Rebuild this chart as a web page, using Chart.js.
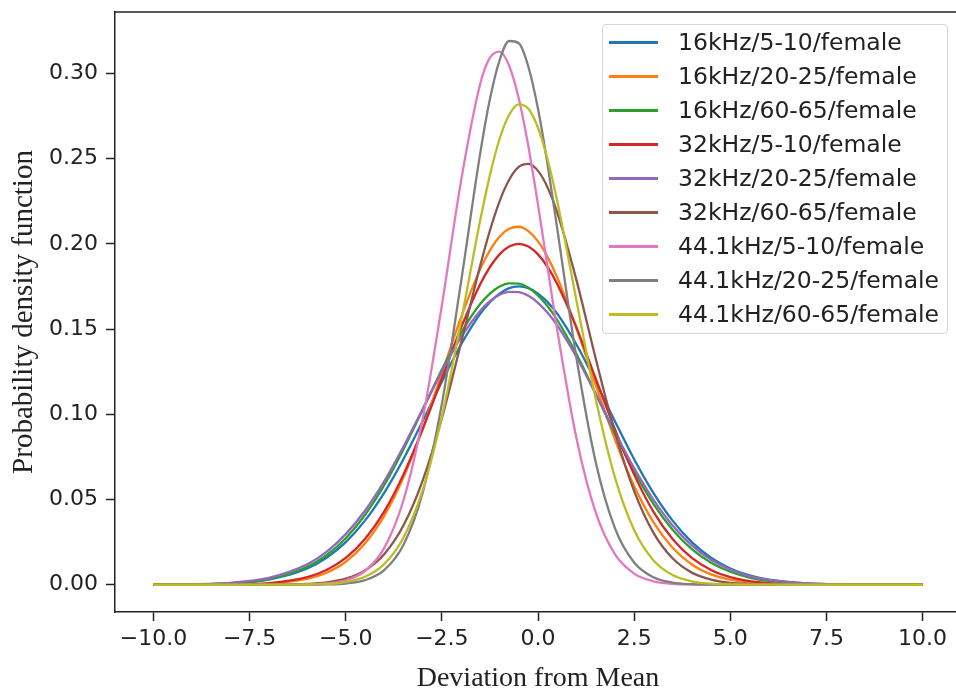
<!DOCTYPE html>
<html>
<head>
<meta charset="utf-8">
<title>Probability density function</title>
<script src="https://cdn.jsdelivr.net/npm/chart.js@4.4.1/dist/chart.umd.min.js"></script>
<style>
    html, body { margin: 0; padding: 0; background: #fff; overflow: hidden; }
    #wrap { position: relative; width: 956px; height: 693px; overflow: hidden; }
    #pdfChart { position: absolute; left: 0; top: 0; }
    #legend {
        position: absolute; left: 602px; top: 24px; width: 344px;
        padding: 0 0 2px 0;
        border: 1px solid #d4d4d4; border-radius: 4px;
        background: rgba(255, 255, 255, 0.85);
        font-family: 'DejaVu Sans', sans-serif; font-size: 23.5px; color: #222;
    }
    .legend-row { display: flex; align-items: center; height: 34px; white-space: nowrap; }
    .legend-swatch { width: 49px; height: 3px; margin-left: 6px; margin-right: 20px; flex: none; }
</style>
</head>
<body>
<div id="wrap">
    <canvas id="pdfChart" width="975" height="693"></canvas>
    <div id="legend"></div>
</div>
<script>
// x positions of the sampled points (deviation from mean)
const xValues = [-10, -9, -8, -7, -6, -5.5, -5, -4.5, -4, -3.5, -3, -2.5, -2, -1.5, -1.25, -1, -0.75, -0.5, -0.25,
    0, 0.25, 0.5, 1, 1.5, 2, 2.5, 3, 3.5, 4, 4.5, 5, 5.5, 6, 7, 8, 9, 10];

const xTicks = [-10, -7.5, -5, -2.5, 0, 2.5, 5, 7.5, 10];
const yTicks = [0, 0.05, 0.10, 0.15, 0.20, 0.25, 0.30];

const seriesLabels = [
    '16kHz/5-10/female', '16kHz/20-25/female', '16kHz/60-65/female',
    '32kHz/5-10/female', '32kHz/20-25/female', '32kHz/60-65/female',
    '44.1kHz/5-10/female', '44.1kHz/20-25/female', '44.1kHz/60-65/female'
];

// density values, one per x position
const pdf16k_5_10 = [0.00003, 0.00017, 0.00078, 0.00301, 0.00954, 0.0158, 0.0250, 0.0376, 0.0539, 0.0736, 0.0959, 0.1191, 0.1409, 0.1590, 0.1658, 0.1708, 0.1740, 0.1750, 0.1740,
    0.1708, 0.1658, 0.1590, 0.1409, 0.1191, 0.0959, 0.0736, 0.0539, 0.0376, 0.0250, 0.0158, 0.00954, 0.00549, 0.00301, 0.00078, 0.00017, 0.00003, 0.000004];
const pdf16k_20_25 = [0.000001, 0.00001, 0.0001, 0.00066, 0.00343, 0.00705, 0.0135, 0.0242, 0.0404, 0.0629, 0.0915, 0.1240, 0.1570, 0.1853, 0.1962, 0.2042, 0.2088, 0.2100, 0.2074,
    0.2014, 0.1922, 0.1803, 0.1506, 0.1173, 0.0853, 0.0579, 0.0367, 0.0217, 0.0119, 0.0061, 0.0030, 0.0013, 0.00055, 0.00008, 0.00001, 0, 0];
const pdf16k_60_65 = [0.00003, 0.00018, 0.00085, 0.0033, 0.0105, 0.0173, 0.0273, 0.0409, 0.0584, 0.0794, 0.1026, 0.1262, 0.1478, 0.1648, 0.1708, 0.1749, 0.1768, 0.1766, 0.1742,
    0.1698, 0.1634, 0.1553, 0.1353, 0.1121, 0.0885, 0.0664, 0.0475, 0.0323, 0.0209, 0.0129, 0.0076, 0.0042, 0.0022, 0.00055, 0.00011, 0.00002, 0.000002];
const pdf32k_5_10 = [0.000002, 0.00002, 0.00017, 0.00099, 0.00448, 0.00866, 0.0157, 0.0268, 0.0429, 0.0646, 0.0912, 0.1210, 0.1508, 0.1764, 0.1864, 0.1938, 0.1984, 0.2000, 0.1984,
    0.1938, 0.1864, 0.1764, 0.1508, 0.1210, 0.0912, 0.0646, 0.0429, 0.0268, 0.0157, 0.00866, 0.00448, 0.00217, 0.00099, 0.00017, 0.00002, 0.000002, 0];
const pdf32k_20_25 = [0.00005, 0.00026, 0.00114, 0.00406, 0.0120, 0.0193, 0.0297, 0.0434, 0.0606, 0.0809, 0.1030, 0.1251, 0.1452, 0.1608, 0.1663, 0.1701, 0.1718, 0.1716, 0.1695,
    0.1654, 0.1595, 0.1521, 0.1336, 0.1120, 0.0896, 0.0684, 0.0499, 0.0347, 0.0231, 0.0146, 0.0089, 0.0051, 0.0028, 0.00075, 0.00016, 0.00003, 0.000005];
const pdf32k_60_65 = [0, 0, 0.000003, 0.00005, 0.00049, 0.00139, 0.00357, 0.0084, 0.0179, 0.0347, 0.0611, 0.0977, 0.1420, 0.1874, 0.2078, 0.2249, 0.2376, 0.2451, 0.2469,
    0.2428, 0.2331, 0.2185, 0.1787, 0.1327, 0.0896, 0.0549, 0.0306, 0.0155, 0.0071, 0.0030, 0.0011, 0.0004, 0.00012, 0.00001, 0, 0, 0];
const pdf44k_5_10 = [0, 0, 0, 0.00001, 0.00017, 0.00071, 0.00258, 0.00805, 0.0215, 0.0494, 0.0972, 0.1639, 0.2371, 0.2941, 0.3092, 0.3128, 0.3045, 0.2852, 0.2571,
    0.2230, 0.1861, 0.1495, 0.0859, 0.0424, 0.0179, 0.0065, 0.0020, 0.00054, 0.00012, 0.00002, 0, 0, 0, 0, 0, 0, 0];
const pdf44k_20_25 = [0, 0, 0, 0, 0.00003, 0.00016, 0.00072, 0.00268, 0.00857, 0.0233, 0.0539, 0.1061, 0.1778, 0.2535, 0.2849, 0.3076, 0.3190, 0.3177, 0.3039,
    0.2792, 0.2464, 0.2089, 0.1330, 0.0720, 0.0332, 0.0130, 0.00435, 0.00124, 0.00030, 0.00006, 0.00001, 0, 0, 0, 0, 0, 0];
const pdf44k_60_65 = [0, 0, 0, 0.00001, 0.00013, 0.00048, 0.00159, 0.00467, 0.0121, 0.0276, 0.0555, 0.0986, 0.1547, 0.2141, 0.2403, 0.2615, 0.2757, 0.2818, 0.2792,
    0.2681, 0.2495, 0.2251, 0.1668, 0.1091, 0.0630, 0.0321, 0.0144, 0.0057, 0.0020, 0.00062, 0.00017, 0.00004, 0.00001, 0, 0, 0, 0];

const seriesValues = [pdf16k_5_10, pdf16k_20_25, pdf16k_60_65, pdf32k_5_10, pdf32k_20_25, pdf32k_60_65,
    pdf44k_5_10, pdf44k_20_25, pdf44k_60_65];

// matplotlib tab10 colours
const seriesColors = ['#1f77b4', '#ff7f0e', '#2ca02c', '#d62728', '#9467bd', '#8c564b', '#e377c2', '#7f7f7f', '#bcbd22'];

const inkColor = '#222';

// top spine (the right one falls outside the picture)
const framePlugin = {
    id: 'frame',
    afterDraw(chart) {
        const { ctx, chartArea } = chart;
        ctx.save();
        ctx.strokeStyle = inkColor;
        ctx.lineWidth = 1.5;
        ctx.beginPath();
        ctx.moveTo(chartArea.left, chartArea.top);
        ctx.lineTo(chartArea.right, chartArea.top);
        ctx.stroke();
        ctx.restore();
    }
};

const datasets = seriesValues.map((vals, i) => ({
    label: seriesLabels[i],
    data: xValues.map((x, j) => ({ x: x, y: vals[j] })),
    borderColor: seriesColors[i],
    backgroundColor: seriesColors[i],
    borderWidth: 2.3,
    pointRadius: 0,
    cubicInterpolationMode: 'monotone',
    fill: false,
    order: seriesValues.length - i // later series on top
}));

const chart = new Chart(document.getElementById('pdfChart'), {
    type: 'line',
    data: { datasets },
    options: {
        responsive: false,
        animation: false,
        devicePixelRatio: 1,
        layout: { padding: { top: 12, right: 14, bottom: 0, left: 0 } },
        plugins: { legend: { display: false }, tooltip: { enabled: false } },
        scales: {
            x: {
                type: 'linear',
                min: -11,
                max: 11,
                afterBuildTicks: (scale) => { scale.ticks = xTicks.map(v => ({ value: v })); },
                afterFit: (scale) => {
                    scale.height = 81;
                    scale.paddingLeft = 0;
                    scale.paddingRight = 0;
                },
                ticks: {
                    autoSkip: false,
                    maxRotation: 0,
                    padding: 5,
                    color: inkColor,
                    font: { family: 'DejaVu Sans', size: 22 },
                    callback: (v) => v.toFixed(1).replace('-', '\u2212')
                },
                grid: { drawOnChartArea: false, drawTicks: true, tickLength: 9, tickColor: inkColor, tickWidth: 1.5 },
                border: { display: true, color: inkColor, width: 1.5 },
                title: {
                    display: true,
                    text: 'Deviation from Mean',
                    color: inkColor,
                    font: { family: 'Liberation Serif', size: 28, lineHeight: 1 },
                    padding: { top: 0, bottom: 0 }
                }
            },
            y: {
                min: -0.016,
                max: 0.336,
                afterBuildTicks: (scale) => { scale.ticks = yTicks.map(v => ({ value: v })); },
                afterFit: (scale) => {
                    scale.width = 115;
                    scale.paddingTop = 0;
                    scale.paddingBottom = 0;
                },
                ticks: {
                    padding: 8,
                    color: inkColor,
                    font: { family: 'DejaVu Sans', size: 22 },
                    callback: (v) => v.toFixed(2)
                },
                grid: { drawOnChartArea: false, drawTicks: true, tickLength: 9, tickColor: inkColor, tickWidth: 1.5 },
                border: { display: true, color: inkColor, width: 1.5 },
                title: {
                    display: true,
                    text: 'Probability density function',
                    color: inkColor,
                    font: { family: 'Liberation Serif', size: 29, lineHeight: 1 },
                    padding: { top: 10, bottom: 0 }
                }
            }
        }
    },
    plugins: [framePlugin]
});

// legend box in the upper right, built from the chart's datasets
const legendEl = document.getElementById('legend');
chart.data.datasets.forEach((ds) => {
    const row = document.createElement('div');
    row.className = 'legend-row';
    const sw = document.createElement('span');
    sw.className = 'legend-swatch';
    sw.style.background = ds.borderColor;
    const txt = document.createElement('span');
    txt.textContent = ds.label;
    row.appendChild(sw);
    row.appendChild(txt);
    legendEl.appendChild(row);
});
</script>
</body>
</html>
